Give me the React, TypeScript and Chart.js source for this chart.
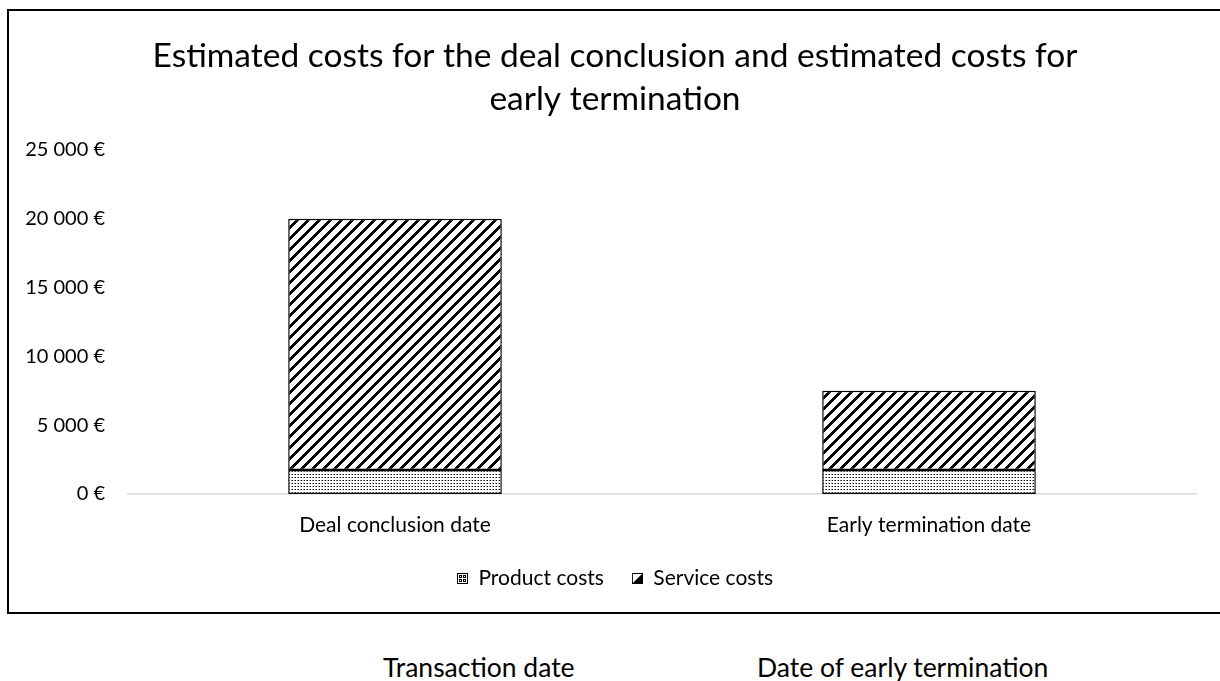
import React, { useEffect, useRef } from "react";
import { Chart, registerables } from "chart.js";

Chart.register(...registerables);

const titleLines = [
  "Estimated costs for the deal conclusion and estimated costs for",
  "early termination",
];
const categories = ["Deal conclusion date", "Early termination date"];
const productCosts = [1750, 1750];
const serviceCosts = [18250, 5750];
const seriesNames = ["Product costs", "Service costs"];
const yMax = 25000;
const yStep = 5000;
const footerLabels = ["Transaction date", "Date of early termination"];

const FONT = "Lato, 'Open Sans', sans-serif";

function formatEuro(v: number): string {
  const s = Math.round(v).toString().replace(/\B(?=(\d{3})+(?!\d))/g, " ");
  return s + " €";
}

function makeStripePattern(ctx: CanvasRenderingContext2D) {
  const size = 11;
  const c = document.createElement("canvas");
  c.width = size;
  c.height = size;
  const g = c.getContext("2d")!;
  const img = g.createImageData(size, size);
  for (let y = 0; y < size; y++) {
    for (let x = 0; x < size; x++) {
      const black = (x + y) % size < 4;
      const i = (y * size + x) * 4;
      const v = black ? 0 : 255;
      img.data[i] = v;
      img.data[i + 1] = v;
      img.data[i + 2] = v;
      img.data[i + 3] = 255;
    }
  }
  g.putImageData(img, 0, 0);
  return ctx.createPattern(c, "repeat")!;
}

function makeDotPattern(ctx: CanvasRenderingContext2D) {
  const size = 3;
  const c = document.createElement("canvas");
  c.width = size;
  c.height = size;
  const g = c.getContext("2d")!;
  g.fillStyle = "#fff";
  g.fillRect(0, 0, size, size);
  g.fillStyle = "#000";
  g.fillRect(1, 1, 1, 1);
  g.fillStyle = "#888";
  g.fillRect(0, 1, 1, 1);
  return ctx.createPattern(c, "repeat")!;
}

function makeProductMarker() {
  const c = document.createElement("canvas");
  c.width = 11;
  c.height = 11;
  const g = c.getContext("2d")!;
  g.fillStyle = "#000";
  g.fillRect(0, 0, 11, 11);
  g.fillStyle = "#fff";
  g.fillRect(1, 1, 9, 9);
  g.fillStyle = "#000";
  g.fillRect(2, 2, 3, 3);
  g.fillRect(6, 2, 3, 3);
  g.fillRect(2, 6, 3, 3);
  g.fillRect(6, 6, 3, 3);
  g.fillStyle = "#fff";
  g.fillRect(3, 3, 1, 1);
  g.fillRect(7, 3, 1, 1);
  g.fillRect(3, 7, 1, 1);
  g.fillRect(7, 7, 1, 1);
  return c;
}

function makeServiceMarker() {
  const c = document.createElement("canvas");
  c.width = 11;
  c.height = 11;
  const g = c.getContext("2d")!;
  g.fillStyle = "#000";
  g.fillRect(0, 0, 11, 11);
  g.fillStyle = "#fff";
  g.fillRect(1, 1, 9, 9);
  g.fillStyle = "#000";
  g.beginPath();
  g.moveTo(10, 1);
  g.lineTo(10, 10);
  g.lineTo(1, 10);
  g.closePath();
  g.fill();
  return c;
}

export default function App() {
  const canvasRef = useRef<HTMLCanvasElement | null>(null);

  useEffect(() => {
    const canvas = canvasRef.current!;
    const ctx = canvas.getContext("2d")!;
    const stripe = makeStripePattern(ctx);
    const dots = makeDotPattern(ctx);
    const markers = [makeProductMarker(), makeServiceMarker()];

    const chart = new Chart(ctx, {
      type: "bar",
      data: {
        labels: categories,
        datasets: [
          {
            label: seriesNames[0],
            data: productCosts,
            backgroundColor: dots,
            borderColor: "#000",
            borderWidth: 1.5,
            borderSkipped: false,
            categoryPercentage: 1,
            barPercentage: 0.4,
          },
          {
            label: seriesNames[1],
            data: serviceCosts,
            backgroundColor: stripe,
            borderColor: "#000",
            borderWidth: 1.5,
            borderSkipped: false,
            categoryPercentage: 1,
            barPercentage: 0.4,
          },
        ],
      },
      options: {
        responsive: false,
        animation: false,
        layout: { padding: { left: 0, right: 0, top: 0, bottom: 13 } },
        plugins: {
          title: {
            display: true,
            text: titleLines,
            color: "#000",
            font: { family: FONT, size: 33.5, weight: "normal", lineHeight: 43 / 33.5 },
            padding: { top: 24, bottom: 29 },
          },
          legend: {
            display: true,
            position: "bottom",
            labels: {
              color: "#000",
              font: { family: FONT, size: 21 },
              usePointStyle: true,
              boxWidth: 11,
              boxHeight: 11,
              pointStyleWidth: 11,
              padding: 28,
              generateLabels: () =>
                seriesNames.map((name, i) => ({
                  text: name,
                  pointStyle: markers[i],
                  fillStyle: "#000",
                  strokeStyle: "#000",
                  lineWidth: 0,
                  hidden: false,
                  datasetIndex: i,
                })),
            },
          },
          tooltip: { enabled: false },
        },
        scales: {
          x: {
            stacked: true,
            grid: { display: false, drawTicks: false },
            border: { display: true, color: "#d9d9d9", width: 1.5 },
            ticks: {
              color: "#000",
              font: { family: FONT, size: 21 },
              padding: 19,
            },
            afterFit: (scale: any) => {
              scale.height = 46;
            },
          },
          y: {
            stacked: true,
            min: 0,
            max: yMax,
            grid: { display: false, drawTicks: false },
            border: { display: false },
            ticks: {
              stepSize: yStep,
              color: "#000",
              font: { family: FONT, size: 20 },
              padding: 23,
              callback: (v: any) => formatEuro(Number(v)),
            },
            afterFit: (scale: any) => {
              scale.width = 119;
            },
          },
          yRight: {
            position: "right",
            display: true,
            grid: { display: false, drawTicks: false },
            border: { display: false },
            ticks: { display: false },
            afterFit: (scale: any) => {
              scale.width = 25;
            },
          },
        },
      },
    });
    return () => chart.destroy();
  }, []);

  return (
    <div
      style={{
        position: "absolute",
        left: 0,
        top: 0,
        width: 1220,
        height: 681,
        overflow: "hidden",
        background: "#fff",
      }}
    >
      <div
        style={{
          position: "absolute",
          left: 7,
          top: 9,
          width: 1212,
          height: 601,
          border: "2px solid #000",
        }}
      >
        <canvas
          ref={canvasRef}
          width={1212}
          height={601}
          style={{ display: "block", width: 1212, height: 601 }}
        />
      </div>
      <div
        style={{
          position: "absolute",
          left: 383,
          top: 653,
          fontFamily: FONT,
          fontSize: 26.5,
          lineHeight: "28px",
          color: "#000",
          whiteSpace: "nowrap",
        }}
      >
        {footerLabels[0]}
      </div>
      <div
        style={{
          position: "absolute",
          left: 757,
          top: 653,
          fontFamily: FONT,
          fontSize: 26.5,
          lineHeight: "28px",
          color: "#000",
          whiteSpace: "nowrap",
        }}
      >
        {footerLabels[1]}
      </div>
    </div>
  );
}
